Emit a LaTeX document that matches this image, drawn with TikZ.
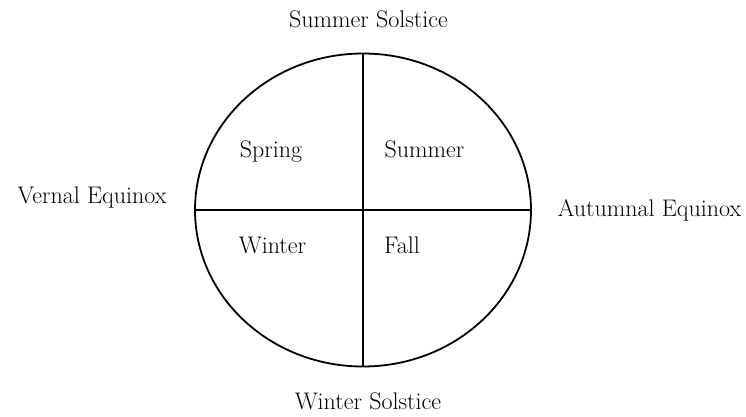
\documentclass[tikz,border=0pt]{standalone}
\usetikzlibrary{shapes.geometric}
\begin{document}
\begin{tikzpicture}[x=1pt,y=-1pt,
  lbl/.style={inner sep=0pt,anchor=base,font=\fontsize{24}{28}\selectfont},
  shape line/.style={line width=1.8pt}]
\useasboundingbox (0,0) rectangle (746,416);
\node[draw,shape line,ellipse,minimum width=336pt,minimum height=313pt,inner sep=0pt] (ell) at (363,210) {};
\draw[shape line] (ell.west) -- (ell.east);
\draw[shape line] (ell.north) -- (ell.south);
\node[lbl] (ss) at (368.5,27) {Summer Solstice};
\node[lbl] (ve) at (92,203) {Vernal Equinox};
\node[lbl] (ae) at (649.5,216) {Autumnal Equinox};
\node[lbl] (ws) at (368,409) {Winter Solstice};
\node[lbl] (sp) at (271,157) {Spring};
\node[lbl] (su) at (424.5,157) {Summer};
\node[lbl] (wi) at (272.5,253) {Winter};
\node[lbl] (fa) at (402,253) {Fall};
\end{tikzpicture}
\end{document}
